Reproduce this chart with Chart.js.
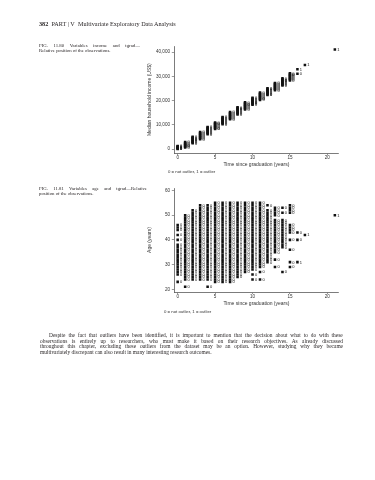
<!DOCTYPE html>
<html>
<head>
<meta charset="utf-8">
<script src="https://cdn.jsdelivr.net/npm/chart.js@4.4.1/dist/chart.umd.min.js"></script>
<style>
  html, body { margin: 0; padding: 0; background: #fff; }
  body { width: 375px; height: 480px; position: relative; overflow: hidden;
         font-family: "Liberation Serif", "Times New Roman", serif; color: #231f20; }
  .line { position: absolute; white-space: nowrap; will-change: transform; }
  .just { text-align: justify; text-align-last: justify; white-space: normal; }
  .cap { font-size: 4.8px; line-height: 5px; height: 5px; }
  .note { font-family: "Liberation Sans", Arial, sans-serif; font-size: 4.3px; line-height: 4.3px; color: #333; }
  .para { font-size: 5.4px; line-height: 5.45px; height: 5.45px; }
  canvas { position: absolute; }
</style>
</head>
<body>

<div class="line" style="left:39.3px; top:20.5px; font-size:6.2px; line-height:6px;"><b>382</b>&nbsp;&nbsp;PART | V&nbsp;&nbsp;Multivariate Exploratory Data Analysis</div>

<div class="line cap just" style="left:39.3px; top:43.2px; width:101px;">FIG. 11.80 Variables income and tgrad—</div>
<div class="line cap" style="left:39.3px; top:48.1px;">Relative position of the observations.</div>

<canvas id="income-chart" width="215" height="134" style="left:130px; top:36px;"></canvas>
<div class="line note" style="left:168.3px; top:169.6px;">0 = not outlier, 1 = outlier</div>

<div class="line cap just" style="left:38.5px; top:185.8px; width:108px;">FIG. 11.81 Variables age and tgrad—Relative</div>
<div class="line cap" style="left:38.5px; top:190.8px;">position of the observations.</div>

<canvas id="age-chart" width="215" height="128" style="left:130px; top:180px;"></canvas>
<div class="line note" style="left:164px; top:310.4px;">0 = not outlier, 1 = outlier</div>

<div class="line para just" style="left:49.3px; top:333.3px; width:293.7px;">Despite the fact that outliers have been identified, it is important to mention that the decision about what to do with these</div>
<div class="line para just" style="left:40px; top:338.9px; width:303px;">observations is entirely up to researchers, who must make it based on their research objectives. As already discussed</div>
<div class="line para just" style="left:40px; top:344.3px; width:303px;">throughout this chapter, excluding these outliers from the dataset may be an option. However, studying why they became</div>
<div class="line para" style="left:40px; top:349.7px;">multivariately discrepant can also result in many interesting research outcomes.</div>

<script>
// income vs time since graduation
const timeTicks = [0, 5, 10, 15, 20];
const incomeTicks = [0, 10000, 20000, 30000, 40000];
const incomeTickLabels = ["0", "10,000", "20,000", "30,000", "40,000"];

const incomeYears = [0, 1, 2, 3, 4, 5, 6, 7, 8, 9, 10, 11, 12, 13, 14, 15];
const incomeClusters = [
  [80, 260, 430, 610, 790, 960, 1140, 1300],
  [720, 1010, 1330, 1640, 1960, 2270, 2590, 2950],
  [2420, 2760, 3100, 3450, 3790, 4140, 4480, 4800, 5090],
  [4130, 4490, 4860, 5220, 5580, 5950, 6320, 6700, 7060],
  [6210, 6570, 6930, 7300, 7670, 8040, 8420, 8800, 9180],
  [8290, 8630, 8980, 9320, 9670, 10010, 10360, 10700, 11030],
  [10310, 10680, 11050, 11420, 11800, 12170, 12540, 12920, 13280],
  [12330, 12700, 13070, 13440, 13810, 14180, 14550, 14920, 15290],
  [14300, 14670, 15050, 15420, 15790, 16170, 16540, 16910, 17280],
  [16320, 16690, 17060, 17440, 17810, 18180, 18560, 18930, 19300],
  [18310, 18670, 19030, 19390, 19750, 20110, 20470, 20830, 21190],
  [20290, 20670, 21040, 21420, 21790, 22170, 22540, 22920, 23290],
  [22310, 22660, 23010, 23360, 23710, 24060, 24410, 24760, 25110],
  [24290, 24670, 25040, 25420, 25790, 26170, 26540, 26920, 27290],
  [26210, 26580, 26960, 27330, 27710, 28080, 28460, 28830, 29210],
  [28290, 28670, 29040, 29420, 29790, 30170, 30540, 30920, 31290]
];
const incomeExtraYears = [16, 16, 17, 21];
const incomeExtraValues = [31100, 32900, 34700, 41100];
const incomeExtraFlags = [0, 1, 1, 1];

// age vs time since graduation
const ageTicks = [20, 30, 40, 50, 60];
const ageYears = [0, 1, 2, 3, 4, 5, 6, 7, 8, 9, 10, 11, 12, 13, 14, 15];
const ageClusters = [
  [23, 26, 27, 28, 29, 30, 31, 32, 33, 34, 35, 36, 37, 38, 40, 42, 44, 45, 46],
  [21, 24, 25, 26, 27, 28, 29, 30, 31, 32, 33, 34, 35, 36, 37, 38, 39, 40, 41, 42, 43, 44, 45, 46, 47, 48, 49, 50],
  [24, 25, 26, 27, 28, 29, 30, 31, 32, 33, 34, 35, 36, 37, 38, 39, 40, 41, 42, 43, 44, 45, 46, 47, 48, 49, 50, 51, 52],
  [24, 25, 26, 27, 28, 29, 30, 31, 32, 33, 34, 35, 36, 37, 38, 39, 40, 41, 42, 43, 44, 45, 46, 47, 48, 49, 50, 51, 52, 53, 54],
  [21, 24, 25, 26, 27, 28, 29, 30, 31, 32, 33, 34, 35, 36, 37, 38, 39, 40, 41, 42, 43, 44, 45, 46, 47, 48, 49, 50, 51, 52, 53, 54],
  [23, 24, 25, 26, 27, 28, 29, 30, 31, 32, 33, 34, 35, 36, 37, 38, 39, 40, 41, 42, 43, 44, 45, 46, 47, 48, 49, 50, 51, 52, 53, 54, 55],
  [23, 24, 25, 26, 27, 28, 29, 30, 31, 32, 33, 34, 35, 36, 37, 38, 39, 40, 41, 42, 43, 44, 45, 46, 47, 48, 49, 50, 51, 52, 53, 54, 55],
  [23, 24, 25, 26, 27, 28, 29, 30, 31, 32, 33, 34, 35, 36, 37, 38, 39, 40, 41, 42, 43, 44, 45, 46, 47, 48, 49, 50, 51, 52, 53, 54, 55],
  [25, 26, 27, 28, 29, 30, 31, 32, 33, 34, 35, 36, 37, 38, 39, 40, 41, 42, 43, 44, 45, 46, 47, 48, 49, 50, 51, 52, 53, 54, 55],
  [27, 28, 29, 30, 31, 32, 33, 34, 35, 36, 37, 38, 39, 40, 41, 42, 43, 44, 45, 46, 47, 48, 49, 50, 51, 52, 53, 54, 55],
  [24, 26, 28, 29, 30, 31, 32, 33, 34, 35, 36, 37, 38, 39, 40, 41, 42, 43, 44, 45, 46, 47, 48, 49, 50, 51, 52, 53, 54, 55],
  [24, 27, 29, 30, 31, 32, 33, 34, 35, 36, 37, 38, 39, 40, 41, 42, 43, 44, 45, 46, 47, 48, 49, 50, 51, 52, 53, 54, 55],
  [31, 32, 33, 34, 35, 36, 37, 38, 39, 40, 41, 42, 43, 44, 45, 46, 47, 48, 49, 50, 51, 52, 54],
  [29, 32, 35, 36, 37, 38, 39, 40, 41, 42, 43, 44, 45, 46, 47, 48, 50, 51, 52, 53],
  [27, 37, 38, 39, 40, 41, 42, 43, 44, 45, 46, 47, 48, 51, 53],
  [29, 31, 36, 40, 43, 44, 45, 46, 51, 52, 53, 54]
];
const ageExtraYears = [16, 16, 16, 17, 21];
const ageExtraValues = [40, 43, 31, 42, 50];
const ageExtraFlags = [0, 0, 1, 1, 1];

const sansFamily = '"Liberation Sans", Arial, sans-serif';
const inkColor = "#333";

function buildPoints(years, clusters, extraYears, extraValues, extraFlags) {
  const points = [];
  years.forEach((year, i) => {
    for (const v of clusters[i]) points.push({ x: year, y: v, flag: 0 });
  });
  extraYears.forEach((year, i) => {
    points.push({ x: year, y: extraValues[i], flag: extraFlags[i] });
  });
  return points;
}

// draws the 0 / 1 marker label right of each point
const markerLabels = {
  id: "markerLabels",
  afterDatasetsDraw(chart) {
    const ctx = chart.ctx;
    const raw = chart.data.datasets[0].data;
    ctx.save();
    ctx.font = "4px " + sansFamily;
    ctx.fillStyle = "#111";
    ctx.textBaseline = "middle";
    ctx.textAlign = "left";
    chart.getDatasetMeta(0).data.forEach((pt, i) => {
      ctx.fillText(String(raw[i].flag), pt.x + 2.4, pt.y + 0.3);
    });
    ctx.restore();
  },
};

function makeChart(canvas, cfg) {
  return new Chart(canvas, {
    type: "scatter",
    data: {
      datasets: [
        {
          data: cfg.points,
          pointStyle: "rect",
          pointRadius: 1.8,
          pointBorderWidth: 0,
          backgroundColor: "#111",
          borderColor: "#111",
        },
      ],
    },
    plugins: [markerLabels],
    options: {
      responsive: false,
      animation: false,
      events: [],
      layout: { padding: { left: 0, right: 6.4, top: cfg.padTop, bottom: 0 } },
      plugins: { legend: { display: false }, tooltip: { enabled: false } },
      scales: {
        x: {
          type: "linear",
          min: -0.45,
          max: 21.5,
          afterBuildTicks: (s) => {
            s.ticks = timeTicks.map((v) => ({ value: v }));
          },
          afterFit: (s) => {
            s.height = cfg.xHeight;
          },
          grid: { drawOnChartArea: false, drawTicks: true, tickLength: 2, color: "#555", lineWidth: 0.6 },
          border: { display: true, color: "#444", width: 0.7 },
          ticks: {
            font: { family: sansFamily, size: 4.6, lineHeight: 1 },
            color: inkColor,
            padding: 0,
            maxRotation: 0,
            autoSkip: false,
          },
          title: {
            display: true,
            text: "Time since graduation (years)",
            font: { family: sansFamily, size: 5, lineHeight: 1 },
            color: inkColor,
            padding: { top: 0, bottom: cfg.xTitlePad },
          },
        },
        y: {
          type: "linear",
          min: cfg.yMin,
          max: cfg.yMax,
          afterBuildTicks: (s) => {
            s.ticks = cfg.yTicks.map((v) => ({ value: v }));
          },
          afterFit: (s) => {
            s.width = 44.3;
          },
          grid: { drawOnChartArea: false, drawTicks: true, tickLength: 2.5, color: "#555", lineWidth: 0.6 },
          border: { display: true, color: "#444", width: 0.7 },
          ticks: {
            font: { family: sansFamily, size: 4.6, lineHeight: 1 },
            color: inkColor,
            padding: 1.8,
            autoSkip: false,
            callback: cfg.yLabel,
          },
          title: {
            display: true,
            text: cfg.yTitle,
            font: { family: sansFamily, size: 5, lineHeight: 1 },
            color: inkColor,
            padding: { top: 17.5, bottom: 0 },
          },
        },
      },
    },
  });
}

makeChart(document.getElementById("income-chart"), {
  points: buildPoints(incomeYears, incomeClusters, incomeExtraYears, incomeExtraValues, incomeExtraFlags),
  padTop: 10,
  xHeight: 16.7,
  xTitlePad: 3.2,
  yMin: -1690,
  yMax: 42500,
  yTicks: incomeTicks,
  yLabel: (v) => incomeTickLabels[incomeTicks.indexOf(v)],
  yTitle: "Median household income (US$)",
});

makeChart(document.getElementById("age-chart"), {
  points: buildPoints(ageYears, ageClusters, ageExtraYears, ageExtraValues, ageExtraFlags),
  padTop: 8,
  xHeight: 16,
  xTitlePad: 1.5,
  yMin: 18.9,
  yMax: 61,
  yTicks: ageTicks,
  yLabel: (v) => String(v),
  yTitle: "Age (years)",
});
</script>
</body>
</html>
